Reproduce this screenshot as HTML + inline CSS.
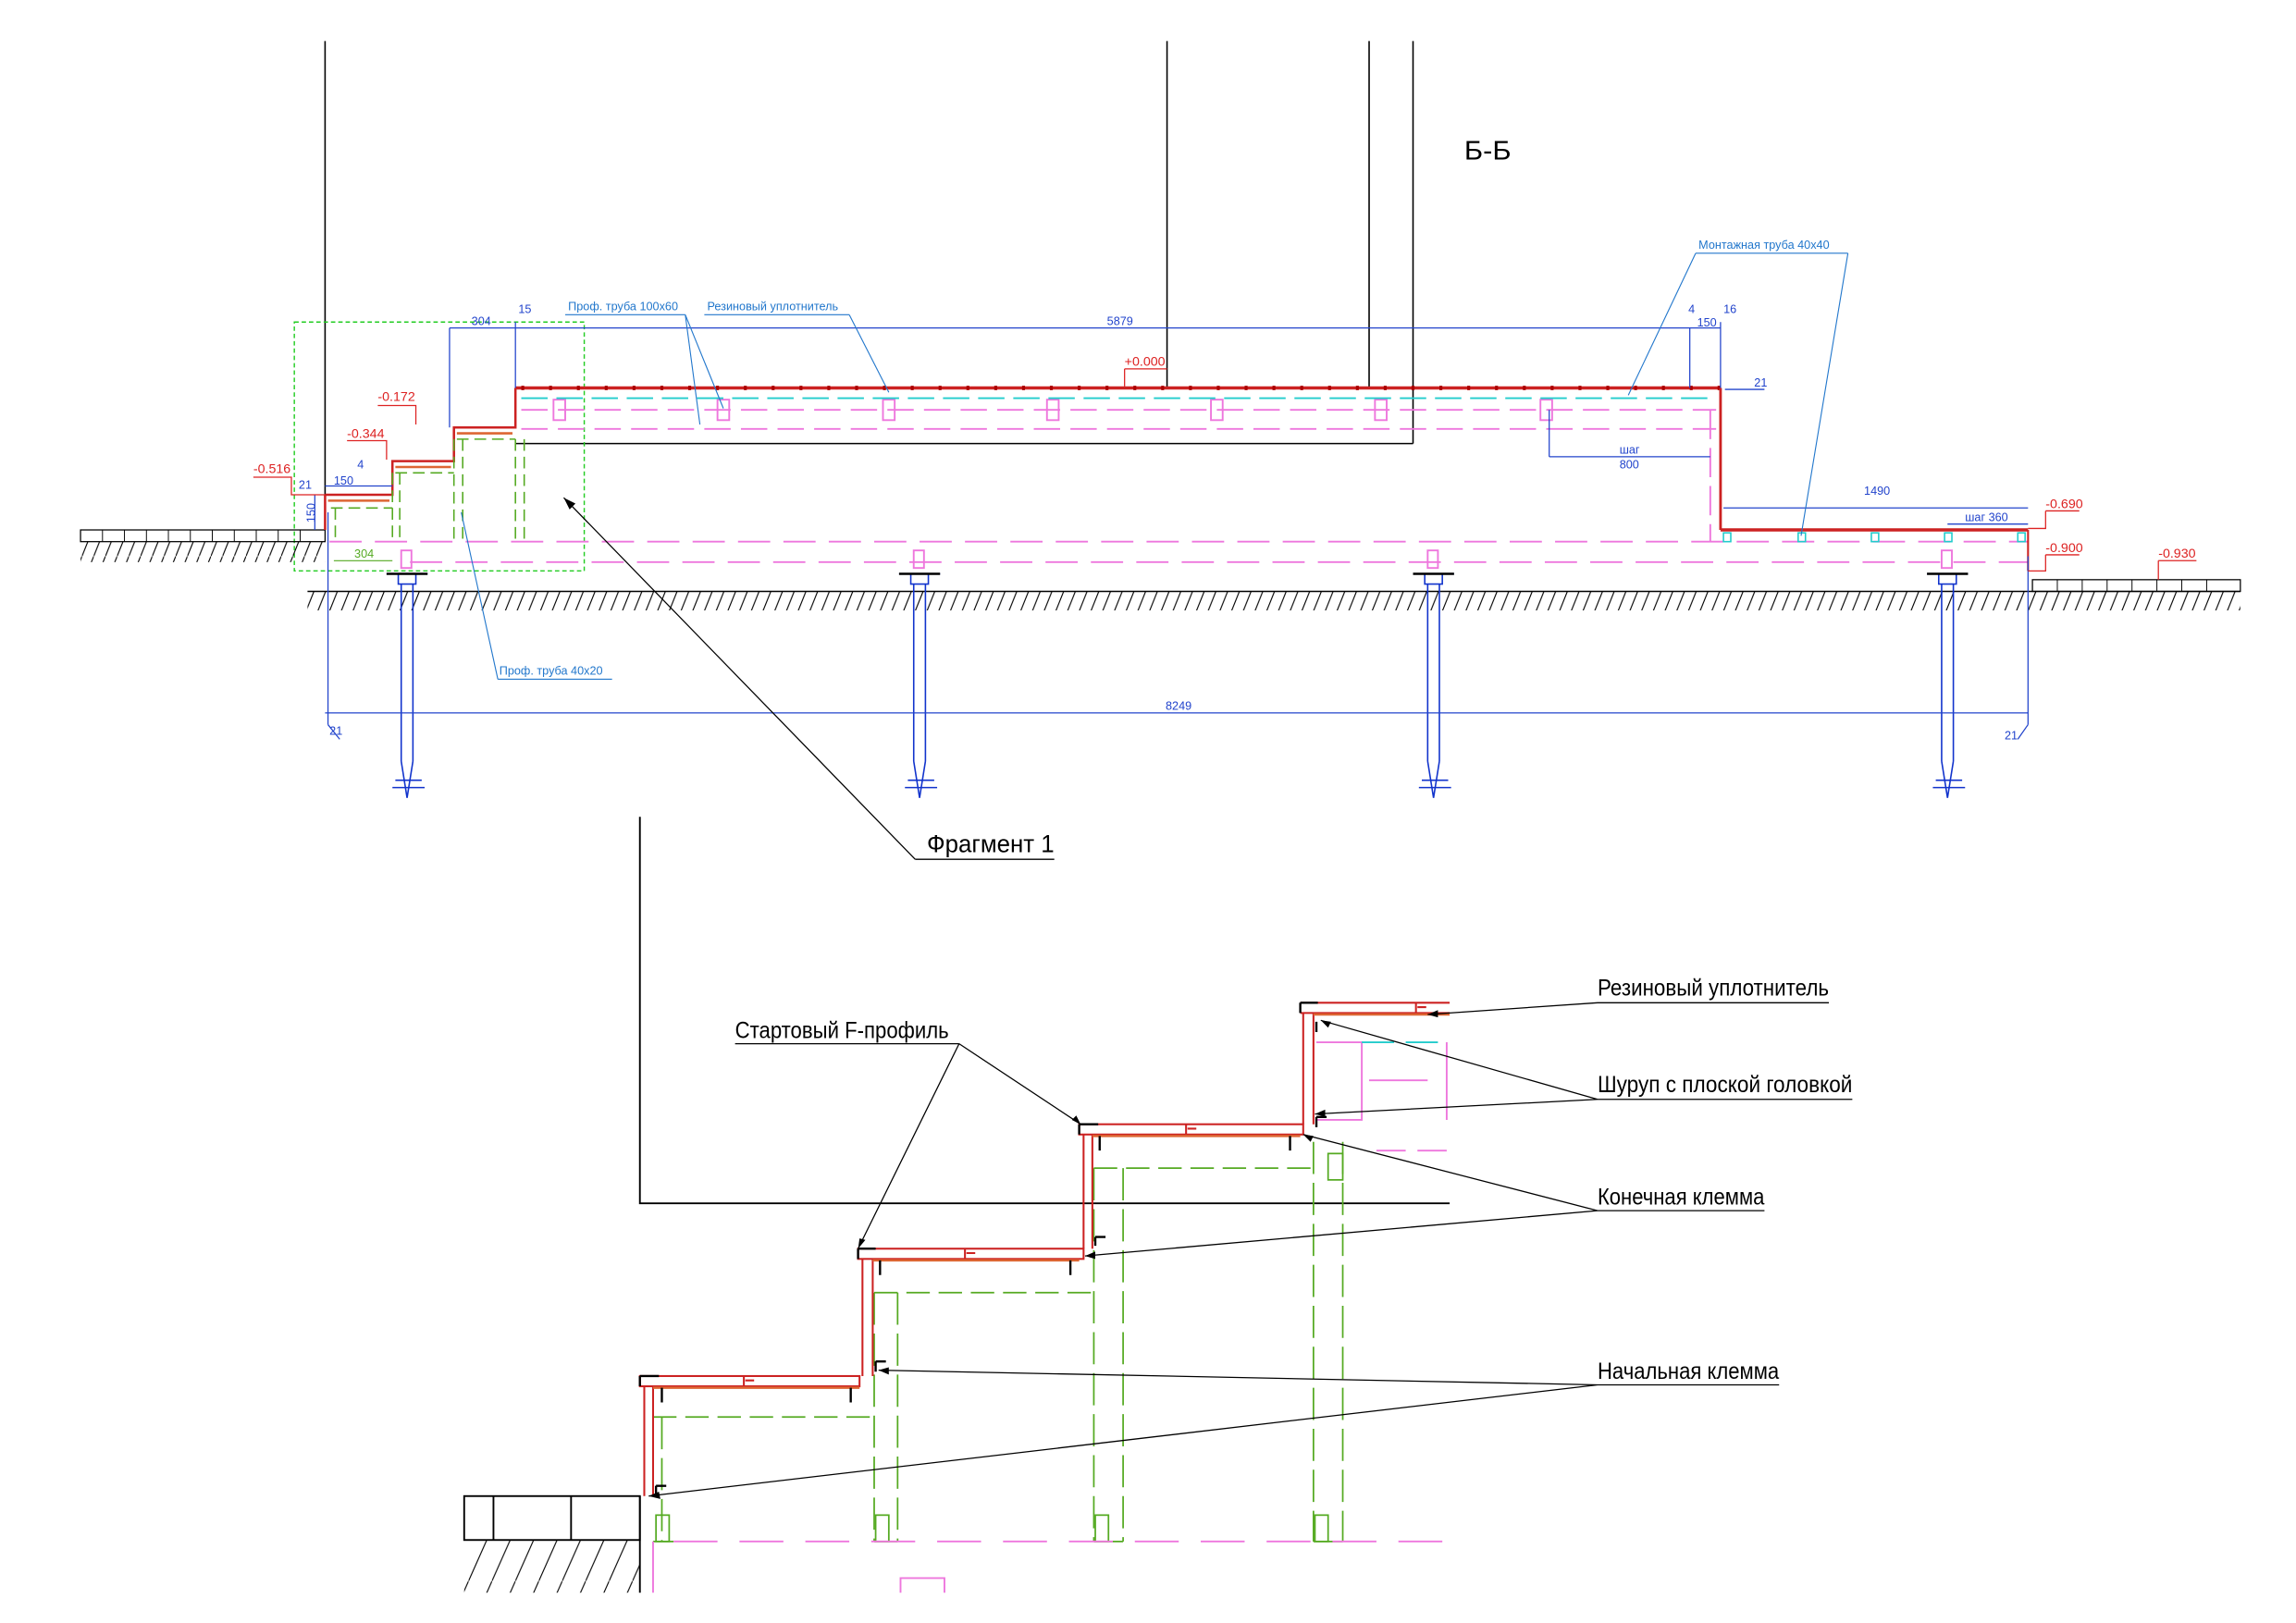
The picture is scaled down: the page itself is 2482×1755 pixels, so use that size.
<!DOCTYPE html>
<html><head><meta charset="utf-8"><style>
html,body{margin:0;padding:0;background:#fff;}
svg{display:block;}
text{font-family:"Liberation Sans",sans-serif;}
</style></head><body>
<svg width="2482" height="1755" viewBox="0 0 1568 1108.7" preserveAspectRatio="none" xmlns="http://www.w3.org/2000/svg">
<defs>
<pattern id="hatch" width="8" height="20" patternUnits="userSpaceOnUse">
<line x1="8" y1="0" x2="0" y2="20" stroke="#000" stroke-width="0.7"/>
</pattern>
<pattern id="hatch2" width="16" height="36" patternUnits="userSpaceOnUse">
<line x1="16" y1="0" x2="0" y2="36" stroke="#000" stroke-width="0.7"/>
</pattern>
</defs>
<rect width="1568" height="1110" fill="#fff"/>

<g stroke="#000" stroke-width="1" fill="none">
<line x1="222" y1="28" x2="222" y2="338"/>
<line x1="797" y1="28" x2="797" y2="265"/>
<line x1="935" y1="28" x2="935" y2="265"/>
<line x1="965" y1="28" x2="965" y2="303"/>
<line x1="352" y1="303" x2="965" y2="303"/>
</g>
<text x="1000" y="109" font-size="18" textLength="32" lengthAdjust="spacingAndGlyphs">Б-Б</text>

<rect x="201" y="220" width="198" height="170" fill="none" stroke="#22cc22" stroke-width="0.9" stroke-dasharray="3,2"/>

<rect x="210" y="404" width="1320" height="13" fill="url(#hatch)"/>
<line x1="210" y1="404" x2="1530" y2="404" stroke="#000" stroke-width="1"/>
<rect x="55" y="362" width="167" height="8" fill="none" stroke="#000" stroke-width="0.8"/>
<g stroke="#000" stroke-width="0.6">
<line x1="70" y1="362" x2="70" y2="370"/><line x1="85" y1="362" x2="85" y2="370"/><line x1="100" y1="362" x2="100" y2="370"/><line x1="115" y1="362" x2="115" y2="370"/><line x1="130" y1="362" x2="130" y2="370"/><line x1="145" y1="362" x2="145" y2="370"/><line x1="160" y1="362" x2="160" y2="370"/><line x1="175" y1="362" x2="175" y2="370"/><line x1="190" y1="362" x2="190" y2="370"/><line x1="205" y1="362" x2="205" y2="370"/>
</g>
<rect x="55" y="370" width="167" height="14" fill="url(#hatch)"/>
<rect x="1388" y="396" width="142" height="8" fill="none" stroke="#000" stroke-width="0.8"/>
<g stroke="#000" stroke-width="0.6">
<line x1="1405" y1="396" x2="1405" y2="404"/><line x1="1422" y1="396" x2="1422" y2="404"/><line x1="1439" y1="396" x2="1439" y2="404"/><line x1="1456" y1="396" x2="1456" y2="404"/><line x1="1473" y1="396" x2="1473" y2="404"/><line x1="1490" y1="396" x2="1490" y2="404"/><line x1="1507" y1="396" x2="1507" y2="404"/>
</g>

<g stroke="#ee77dd" stroke-width="1.2" fill="none">
<line x1="356" y1="280" x2="1172" y2="280" stroke-dasharray="18,7"/>
<line x1="356" y1="293" x2="1172" y2="293" stroke-dasharray="18,7"/>
<line x1="225" y1="370" x2="1385" y2="370" stroke-dasharray="22,9"/>
<line x1="280" y1="384" x2="1385" y2="384" stroke-dasharray="22,9"/>
<line x1="1168" y1="280" x2="1168" y2="370" stroke-dasharray="20,6"/>
<rect x="378" y="273" width="8" height="14"/><rect x="490" y="273" width="8" height="14"/><rect x="603" y="273" width="8" height="14"/><rect x="715" y="273" width="8" height="14"/><rect x="827" y="273" width="8" height="14"/><rect x="939" y="273" width="8" height="14"/><rect x="1052" y="273" width="8" height="14"/>
<rect x="274" y="376" width="7" height="12"/><rect x="624" y="376" width="7" height="12"/><rect x="975" y="376" width="7" height="12"/><rect x="1326" y="376" width="7" height="12"/>
</g>
<line x1="356" y1="272" x2="1172" y2="272" stroke="#22cccc" stroke-width="1.2" stroke-dasharray="18,6"/>

<line x1="352" y1="265" x2="1175" y2="265" stroke="#cc2222" stroke-width="2.2"/>
<line x1="356" y1="265" x2="1175" y2="265" stroke="#aa0000" stroke-width="3" stroke-dasharray="2,17"/>
<line x1="1175" y1="265" x2="1175" y2="362" stroke="#cc2222" stroke-width="1.8"/>
<line x1="1175" y1="362" x2="1385" y2="362" stroke="#cc2222" stroke-width="2.2"/>
<line x1="1385" y1="362" x2="1385" y2="390" stroke="#cc2222" stroke-width="1.3"/>
<g fill="none" stroke="#22cccc" stroke-width="1"><rect x="1177" y="364" width="5" height="6"/><rect x="1228" y="364" width="5" height="6"/><rect x="1278" y="364" width="5" height="6"/><rect x="1328" y="364" width="5" height="6"/><rect x="1378" y="364" width="5" height="6"/></g>

<g fill="none" stroke-width="1.6">
<path d="M222 338 H268 V315 H310 V292 H352 V265" stroke="#cc2222"/>
<path d="M224 342 H266 M270 319 H308 M312 296 H350" stroke="#dd6633"/>
<path d="M222 338 V362" stroke="#cc2222"/>
</g>
<g fill="none" stroke="#55aa22" stroke-width="1" stroke-dasharray="8,4">
<path d="M226 347 H268 M270 323 H310 M312 300 H352"/>
<path d="M229 347 V370 M268 323 V370 M273 323 V370 M310 300 V370 M316 300 V370 M352 300 V370 M358 300 V370"/>
</g>

<g stroke="#1133cc" stroke-width="1" fill="none">
<path d="M264 392 H292 M272 392 V399 H284 V392"/><path d="M274 399 V520 M282 399 V520 M274 520 L278 545 L282 520"/><path d="M268 538 H290 M270 533 H288"/>
<path d="M614 392 H642 M622 392 V399 H634 V392"/><path d="M624 399 V520 M632 399 V520 M624 520 L628 545 L632 520"/><path d="M618 538 H640 M620 533 H638"/>
<path d="M965 392 H993 M973 392 V399 H985 V392"/><path d="M975 399 V520 M983 399 V520 M975 520 L979 545 L983 520"/><path d="M969 538 H991 M971 533 H989"/>
<path d="M1316 392 H1344 M1324 392 V399 H1336 V392"/><path d="M1326 399 V520 M1334 399 V520 M1326 520 L1330 545 L1334 520"/><path d="M1320 538 H1342 M1322 533 H1340"/>
</g>
<g stroke="#000" stroke-width="1.6"><line x1="264" y1="392" x2="292" y2="392"/><line x1="614" y1="392" x2="642" y2="392"/><line x1="965" y1="392" x2="993" y2="392"/><line x1="1316" y1="392" x2="1344" y2="392"/></g>

<g stroke="#2244cc" stroke-width="0.8" fill="none">
<line x1="307" y1="224" x2="1175" y2="224"/>
<line x1="307" y1="224" x2="307" y2="292"/><line x1="352" y1="220" x2="352" y2="265"/>
<line x1="1154" y1="224" x2="1154" y2="265"/><line x1="1175" y1="220" x2="1175" y2="265"/>
<line x1="222" y1="487" x2="1385" y2="487"/>
<line x1="224" y1="350" x2="224" y2="495"/><line x1="1385" y1="380" x2="1385" y2="495"/>
<line x1="1177" y1="347" x2="1385" y2="347"/>
<line x1="1058" y1="312" x2="1168" y2="312"/><line x1="1058" y1="280" x2="1058" y2="312"/>
<line x1="1330" y1="358" x2="1385" y2="358"/>
<line x1="222" y1="332" x2="268" y2="332"/>
<line x1="215" y1="338" x2="215" y2="362"/>
<line x1="1178" y1="266" x2="1205" y2="266"/>
<line x1="224" y1="495" x2="232" y2="505"/><line x1="1385" y1="495" x2="1378" y2="505"/>
</g>
<g fill="#2244cc" font-size="8">
<text x="322" y="222">304</text><text x="354" y="214">15</text><text x="756" y="222">5879</text>
<text x="1153" y="214">4</text><text x="1177" y="214">16</text><text x="1159" y="223">150</text>
<text x="1198" y="264">21</text><text x="1106" y="310">шаг</text><text x="1106" y="320">800</text>
<text x="1273" y="338">1490</text><text x="1342" y="356">шаг 360</text>
<text x="796" y="485">8249</text><text x="225" y="502">21</text><text x="1369" y="505">21</text>
<text x="228" y="331">150</text><text x="244" y="320">4</text><text x="204" y="334">21</text>
<text x="215" y="357" transform="rotate(-90 215 357)">150</text>
</g>
<text x="242" y="381" font-size="8" fill="#55aa22">304</text>
<line x1="228" y1="383" x2="268" y2="383" stroke="#55aa22" stroke-width="0.7"/>

<g fill="#2277cc" font-size="8">
<text x="388" y="212">Проф. труба 100х60</text>
<text x="483" y="212">Резиновый уплотнитель</text>
<text x="1160" y="170">Монтажная труба 40х40</text>
<text x="341" y="461">Проф. труба 40х20</text>
</g>
<g stroke="#2277cc" stroke-width="0.7" fill="none">
<line x1="386" y1="215" x2="468" y2="215"/><line x1="468" y1="215" x2="478" y2="290"/><line x1="468" y1="215" x2="494" y2="279"/>
<line x1="481" y1="215" x2="580" y2="215"/><line x1="580" y1="215" x2="607" y2="268"/>
<line x1="1158" y1="173" x2="1262" y2="173"/><line x1="1158" y1="173" x2="1112" y2="270"/><line x1="1262" y1="173" x2="1230" y2="366"/>
<line x1="340" y1="464" x2="418" y2="464"/><line x1="340" y1="464" x2="315" y2="350"/>
</g>

<g fill="#dd2222" font-size="9">
<text x="768" y="250">+0.000</text><text x="258" y="274">-0.172</text><text x="237" y="299">-0.344</text>
<text x="173" y="323">-0.516</text><text x="1397" y="347">-0.690</text><text x="1397" y="377">-0.900</text><text x="1474" y="381">-0.930</text>
</g>
<g stroke="#dd2222" stroke-width="0.8" fill="none">
<path d="M768 252 H797 M768 252 V264"/>
<path d="M258 277 H284 V290"/>
<path d="M237 301 H264 V314"/>
<path d="M173 326 H199 V338 H222"/>
<path d="M1397 349 H1420 M1397 349 V361 H1385"/>
<path d="M1397 379 H1420 M1397 379 V390 H1385"/>
<path d="M1474 383 H1500 M1474 383 V396"/>
</g>

<text x="633" y="582" font-size="17" fill="#000" textLength="87" lengthAdjust="spacingAndGlyphs">Фрагмент 1</text>
<g stroke="#000" stroke-width="0.8"><line x1="625" y1="587" x2="720" y2="587"/><line x1="625" y1="587" x2="385" y2="340"/></g>
<path d="M385 340 L393 344 L389 348 Z" fill="#000"/>

<g stroke="#000" stroke-width="1.2" fill="none">
<path d="M437 558 V822 H990"/>
<line x1="437" y1="1022" x2="437" y2="1088"/>
<rect x="317" y="1022" width="120" height="30"/>
<line x1="337" y1="1022" x2="337" y2="1052"/><line x1="390" y1="1022" x2="390" y2="1052"/>
</g>
<rect x="317" y="1052" width="120" height="36" fill="url(#hatch2)"/>

<g stroke="#55aa22" stroke-width="1.1" fill="none">
<path d="M446 968 H597 M597 883 H747 M747 798 H897" stroke-dasharray="16,6"/>
<path d="M452 968 V1053 M597 883 V1053 M613 883 V1053 M747 798 V1053 M767 798 V1053 M897 780 V1053 M917 780 V1053" stroke-dasharray="22,6"/>
<path d="M446 1053 H460 M597 1053 H613 M747 1053 H767 M897 1053 H917"/>
<rect x="448" y="1035" width="9" height="18"/><rect x="598" y="1035" width="9" height="18"/><rect x="748" y="1035" width="9" height="18"/><rect x="898" y="1035" width="9" height="18"/>
<rect x="907" y="788" width="10" height="18"/>
</g>

<g stroke="#ee77dd" stroke-width="1.2" fill="none">
<line x1="460" y1="1053" x2="990" y2="1053" stroke-dasharray="30,15"/>
<line x1="446" y1="1053" x2="446" y2="1088"/>
<path d="M615 1088 V1078 H645 V1088"/>
<path d="M899 712 H930 V765 H899"/>
<line x1="935" y1="738" x2="975" y2="738"/>
<line x1="988" y1="712" x2="988" y2="765"/>
<line x1="940" y1="786" x2="990" y2="786" stroke-dasharray="20,8"/>
</g>
<line x1="930" y1="712" x2="990" y2="712" stroke="#22cccc" stroke-width="1.2" stroke-dasharray="22,8"/>

<g fill="none" stroke="#cc2222" stroke-width="1.3">
<rect x="437" y="940" width="150" height="7"/>
<rect x="586" y="853" width="154" height="7"/>
<rect x="737" y="768" width="153" height="7"/>
<path d="M888 685 H990 M888 692 H990"/>
<path d="M440 947 V1022 M446 947 V1022"/>
<path d="M589 860 V940 M596 860 V940"/>
<path d="M740 775 V853 M746 775 V853"/>
<path d="M890 692 V768 M897 692 V768"/>
<path d="M508 940 v7 M509 943 h6 M659 853 v7 M660 856 h6 M810 768 v7 M811 771 h6 M967 685 v7 M968 688 h6"/>
</g>
<g stroke="#dd6633" stroke-width="1.6">
<line x1="446" y1="948" x2="587" y2="948"/><line x1="596" y1="861" x2="737" y2="861"/><line x1="746" y1="776" x2="888" y2="776"/><line x1="897" y1="693" x2="990" y2="693"/>
</g>
<g stroke="#000" stroke-width="1.5" fill="none">
<path d="M437 940 H450 M437 940 V947"/><path d="M586 853 H598 M586 853 V860"/><path d="M737 768 H750 M737 768 V775"/><path d="M888 685 H900 M888 685 V692"/>
<path d="M452 948 V958 M581 948 V958 M601 861 V871 M731 861 V871 M751 776 V786 M881 776 V786"/>
<path d="M448 1015 H455 M448 1015 V1022 M598 930 H605 M598 930 V937 M748 845 H755 M748 845 V851 M899 763 H906 M899 763 V770 M899 698 V705"/>
</g>

<g font-size="16" fill="#000">
<text x="1091" y="680" textLength="158" lengthAdjust="spacingAndGlyphs">Резиновый уплотнитель</text>
<text x="1091" y="746" textLength="174" lengthAdjust="spacingAndGlyphs">Шуруп с плоской головкой</text>
<text x="1091" y="823" textLength="114" lengthAdjust="spacingAndGlyphs">Конечная клемма</text>
<text x="1091" y="942" textLength="124" lengthAdjust="spacingAndGlyphs">Начальная клемма</text>
<text x="502" y="709" textLength="146" lengthAdjust="spacingAndGlyphs">Стартовый F-профиль</text>
</g>
<g stroke="#000" stroke-width="0.8" fill="none">
<path d="M1091 685 H1249 M1091 685 L975 693"/>
<path d="M1091 751 H1265 M1091 751 L902 697 M1091 751 L898 761"/>
<path d="M1091 827 H1205 M1091 827 L890 775 M1091 827 L741 858"/>
<path d="M1091 946 H1215 M1091 946 L600 936 M1091 946 L443 1022"/>
<path d="M502 713 H655 M655 713 L738 768 M655 713 L586 853"/>
</g>
<g fill="#000">
<path d="M975 693 l7 -3 l0 5 z"/><path d="M902 697 l7 1 l-2 4 z"/><path d="M898 761 l7 -3 l0 5 z"/>
<path d="M890 775 l7 1 l-2 4 z"/><path d="M741 858 l7 -3 l0 5 z"/>
<path d="M600 936 l7 -2 l0 5 z"/><path d="M443 1022 l7 -3 l1 5 z"/>
<path d="M738 768 l-6 -3 l3 -3 z"/><path d="M586 853 l1 -7 l4 1 z"/>
</g>
</svg>
</body></html>
